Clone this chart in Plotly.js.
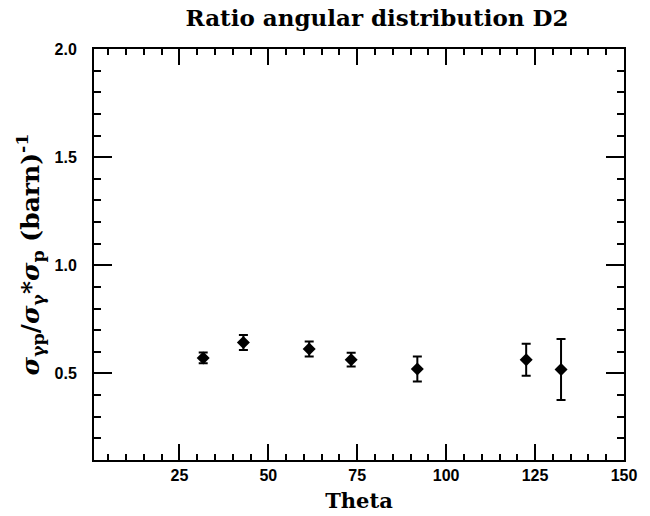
<!DOCTYPE html>
<html>
<head>
<meta charset="utf-8">
<script src="https://cdn.plot.ly/plotly-3.0.1.min.js"></script>
<style>html,body{margin:0;padding:0;background:#fff;}#chart{width:650px;height:516px;}</style>
</head>
<body>
<div id="chart"></div>
<script>
// Data
var theta = [31.7, 43.0, 61.5, 73.3, 91.9, 122.5, 132.3];
var ratio = [0.572, 0.643, 0.613, 0.564, 0.521, 0.563, 0.518];
var ratioErr = [0.025, 0.035, 0.035, 0.032, 0.058, 0.074, 0.141];
var xTickVals = [25, 50, 75, 100, 125, 150];
var yTickVals = [0.5, 1.0, 1.5, 2.0];

var trace = {
  x: theta,
  y: ratio,
  type: 'scatter',
  mode: 'markers',
  marker: {symbol: 'diamond', size: 10, color: '#000'},
  error_y: {type: 'data', array: ratioErr, visible: true, color: '#000', thickness: 2, width: 4.5},
  showlegend: false,
  hoverinfo: 'x+y'
};

var tickFont = {family: 'Liberation Sans, Arial, sans-serif', size: 16, color: '#000', weight: 'bold'};

var layout = {
  width: 650,
  height: 516,
  paper_bgcolor: '#fff',
  plot_bgcolor: '#fff',
  margin: {l: 94, r: 26, t: 49, b: 56, pad: 0},
  title: {
    text: 'Ratio angular distribution D2',
    font: {family: 'DejaVu Serif, serif', size: 23, color: '#000', weight: 'bold'},
    x: 0.534, xref: 'paper', xanchor: 'center',
    y: 0.965, yref: 'container', yanchor: 'middle'
  },
  xaxis: {
    range: [1, 150],
    tickmode: 'array',
    tickvals: xTickVals,
    ticktext: xTickVals.map(String),
    ticks: 'inside',
    ticklen: 16,
    tickwidth: 2,
    tickcolor: '#000',
    minor: {dtick: 5, tick0: 0, ticks: 'inside', ticklen: 6, tickwidth: 2, tickcolor: '#000', showgrid: false},
    showline: true,
    linewidth: 2,
    linecolor: '#000',
    mirror: 'ticks',
    showgrid: false,
    zeroline: false,
    tickfont: tickFont,
    title: {
      text: 'Theta',
      font: {family: 'DejaVu Serif, serif', size: 21, color: '#000', weight: 'bold'},
      standoff: 10
    }
  },
  yaxis: {
    range: [0.1, 2.0],
    tickmode: 'array',
    tickvals: yTickVals,
    ticktext: yTickVals.map(function(v){return v.toFixed(1);}),
    ticks: 'inside',
    ticklen: 18,
    tickwidth: 2,
    tickcolor: '#000',
    minor: {dtick: 0.1, tick0: 0, ticks: 'inside', ticklen: 7, tickwidth: 2, tickcolor: '#000', showgrid: false},
    showline: true,
    linewidth: 2,
    linecolor: '#000',
    mirror: 'ticks',
    showgrid: false,
    zeroline: false,
    tickfont: tickFont,
    ticklabelstandoff: 12,
    title: {
      text: '<i>σ</i><sub>γp</sub>/<i>σ</i><sub>γ</sub>*<i>σ</i><sub>p</sub> (barn)<sup>-1</sup>',
      font: {family: 'DejaVu Serif, serif', size: 25, color: '#000', weight: 'bold'},
      standoff: 8
    }
  }
};

Plotly.newPlot('chart', [trace], layout, {displayModeBar: false, staticPlot: true});
</script>
</body>
</html>
